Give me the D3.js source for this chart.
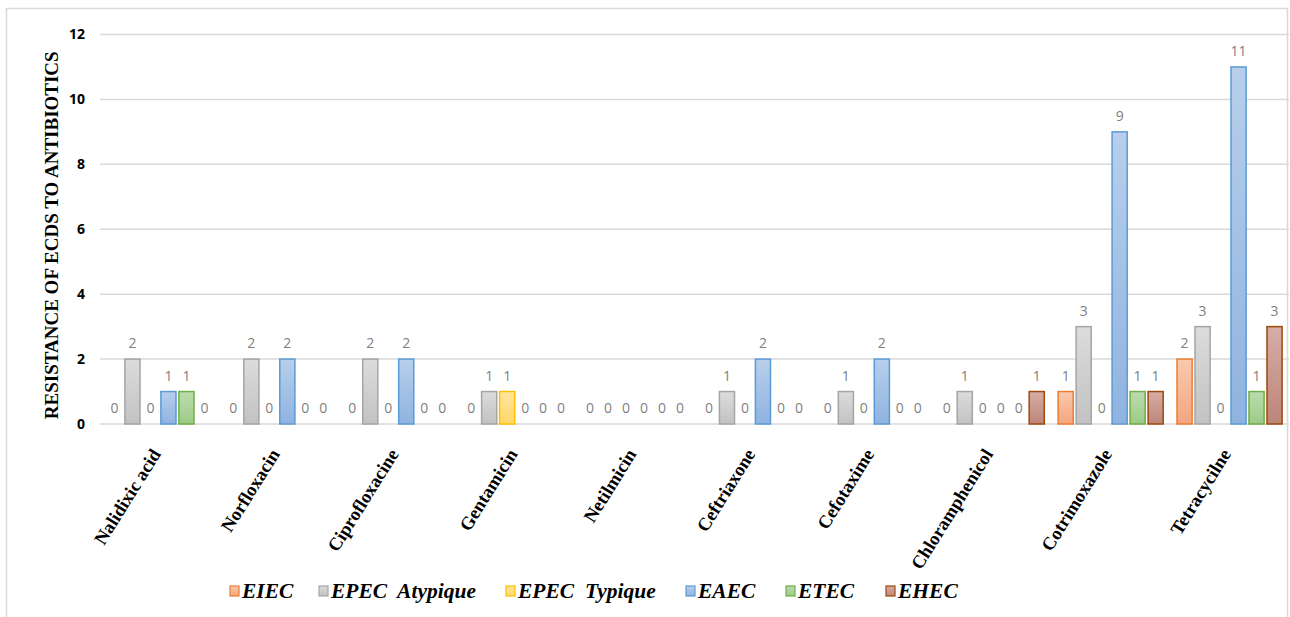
<!DOCTYPE html>
<html>
<head>
<meta charset="utf-8">
<script src="https://cdn.jsdelivr.net/npm/d3@7"></script>
<style>
  html, body { margin: 0; padding: 0; background: #fff; }
  svg { display: block; }
</style>
</head>
<body>
<svg id="chart" width="1290" height="617"></svg>
<script>
const categories = ["Nalidixic acid", "Norfloxacin", "Ciprofloxacine", "Gentamicin", "Netilmicin",
  "Ceftriaxone", "Cefotaxime", "Chloramphenicol", "Cotrimoxazole", "Tetracycilne"];
const seriesNames = ["EIEC", "EPEC  Atypique", "EPEC  Typique", "EAEC", "ETEC", "EHEC"];
const eiec        = [0, 0, 0, 0, 0, 0, 0, 0, 1, 2];
const epecAtyp    = [2, 2, 2, 1, 0, 1, 1, 1, 3, 3];
const epecTyp     = [0, 0, 0, 1, 0, 0, 0, 0, 0, 0];
const eaec        = [1, 2, 2, 0, 0, 2, 2, 0, 9, 11];
const etec        = [1, 0, 0, 0, 0, 0, 0, 0, 1, 1];
const ehec        = [0, 0, 0, 0, 0, 0, 0, 1, 1, 3];
const yTicks = [0, 2, 4, 6, 8, 10, 12];
const yTitle = "RESISTANCE OF ECDS TO ANTIBIOTICS";

const seriesValues = [eiec, epecAtyp, epecTyp, eaec, etec, ehec];
const colors = [
  { top: "#f9c9ae", bottom: "#f4a680", stroke: "#ed7d31" },
  { top: "#dcdcdc", bottom: "#c2c2c2", stroke: "#a5a5a5" },
  { top: "#ffe6a0", bottom: "#ffd767", stroke: "#ffc000" },
  { top: "#b7cfeb", bottom: "#8fb3e0", stroke: "#5b9bd5" },
  { top: "#bcdcae", bottom: "#9ccb88", stroke: "#70ad47" },
  { top: "#d6ada6", bottom: "#bd8578", stroke: "#9e480e" }
];

const svg = d3.select("#chart");
const defs = svg.append("defs");
colors.forEach((c, i) => {
  const g = defs.append("linearGradient").attr("id", "grad" + i)
    .attr("x1", 0).attr("y1", 0).attr("x2", 0).attr("y2", 1);
  g.append("stop").attr("offset", "0%").attr("stop-color", c.top);
  g.append("stop").attr("offset", "100%").attr("stop-color", c.bottom);
});

// outer border
svg.append("rect").attr("x", 6.5).attr("y", 8.5).attr("width", 1281).attr("height", 640)
  .attr("fill", "none").attr("stroke", "#d9d9d9").attr("stroke-width", 1.5);

const plotLeft = 100, plotRight = 1289;
const y = d3.scaleLinear().domain([0, 12]).range([424, 34.5]);
const x0 = d3.scaleBand().domain(categories).range([plotLeft, plotRight])
  .paddingInner(0.092).paddingOuter(0.046);
const x1 = d3.scaleBand().domain(d3.range(seriesNames.length)).range([0, x0.bandwidth()]);
const barW = x1.bandwidth() * 0.84;

// gridlines
svg.append("g").selectAll("line").data(yTicks).join("line")
  .attr("x1", plotLeft).attr("x2", plotRight)
  .attr("y1", d => y(d)).attr("y2", d => y(d))
  .attr("stroke", "#d9d9d9").attr("stroke-width", 1.5);

// y axis labels
const yAxis = d3.axisLeft(y).tickValues(yTicks).tickSize(0).tickPadding(0);
const yg = svg.append("g").attr("transform", `translate(85,0)`).call(yAxis);
yg.select(".domain").remove();
yg.selectAll("text")
  .attr("font-family", "'Open Sans', 'Liberation Sans', sans-serif")
  .attr("font-weight", "bold").attr("font-size", 14).attr("fill", "#000");

// y title
svg.append("text")
  .attr("transform", `translate(58, ${(y(0) + y(12)) / 2 + 6}) rotate(-90)`)
  .attr("text-anchor", "middle")
  .attr("font-family", "'Liberation Serif', 'Times New Roman', serif")
  .attr("font-weight", "bold").attr("font-size", 19).attr("fill", "#000")
  .text(yTitle);

// bars
const groups = svg.append("g").selectAll("g").data(categories).join("g")
  .attr("transform", d => `translate(${x0(d)},0)`);

groups.each(function(cat, ci) {
  const g = d3.select(this);
  seriesValues.forEach((vals, si) => {
    const v = vals[ci];
    const cx = x1(si) + x1.bandwidth() / 2;
    if (v > 0) {
      g.append("rect")
        .attr("x", cx - barW / 2).attr("y", y(v))
        .attr("width", barW).attr("height", y(0) - y(v))
        .attr("fill", `url(#grad${si})`)
        .attr("stroke", colors[si].stroke).attr("stroke-width", 1.5);
    }
    g.append("text")
      .attr("x", cx).attr("y", y(v) - 11)
      .attr("text-anchor", "middle")
      .attr("font-family", "'Open Sans', 'Liberation Sans', sans-serif")
      .attr("font-size", 14).attr("fill", "#7f7f7f")
      .text(v);
  });
});

// x labels
svg.append("g").selectAll("text").data(categories).join("text")
  .attr("transform", d => `translate(${x0(d) + x0.bandwidth() / 2 + 2}, 454) rotate(-58)`)
  .attr("text-anchor", "end")
  .attr("font-family", "'Liberation Serif', 'Times New Roman', serif")
  .attr("font-weight", "bold").attr("font-size", 18.5).attr("fill", "#000")
  .text(d => d);

// legend
const legendX = [230, 319, 506, 686, 786, 886];
const lg = svg.append("g").selectAll("g").data(seriesNames).join("g")
  .attr("transform", (d, i) => `translate(${legendX[i]}, 591)`);
lg.append("rect").attr("x", 0).attr("y", -5).attr("width", 9).attr("height", 10)
  .attr("fill", (d, i) => `url(#grad${i})`)
  .attr("stroke", (d, i) => colors[i].stroke).attr("stroke-width", 1.2);
lg.append("text").attr("x", 12).attr("y", 7)
  .attr("font-family", "'Liberation Serif', 'Times New Roman', serif")
  .attr("font-weight", "bold").attr("font-style", "italic").attr("font-size", 21.5)
  .attr("fill", "#000").style("white-space", "pre")
  .text(d => d);
</script>
</body>
</html>
